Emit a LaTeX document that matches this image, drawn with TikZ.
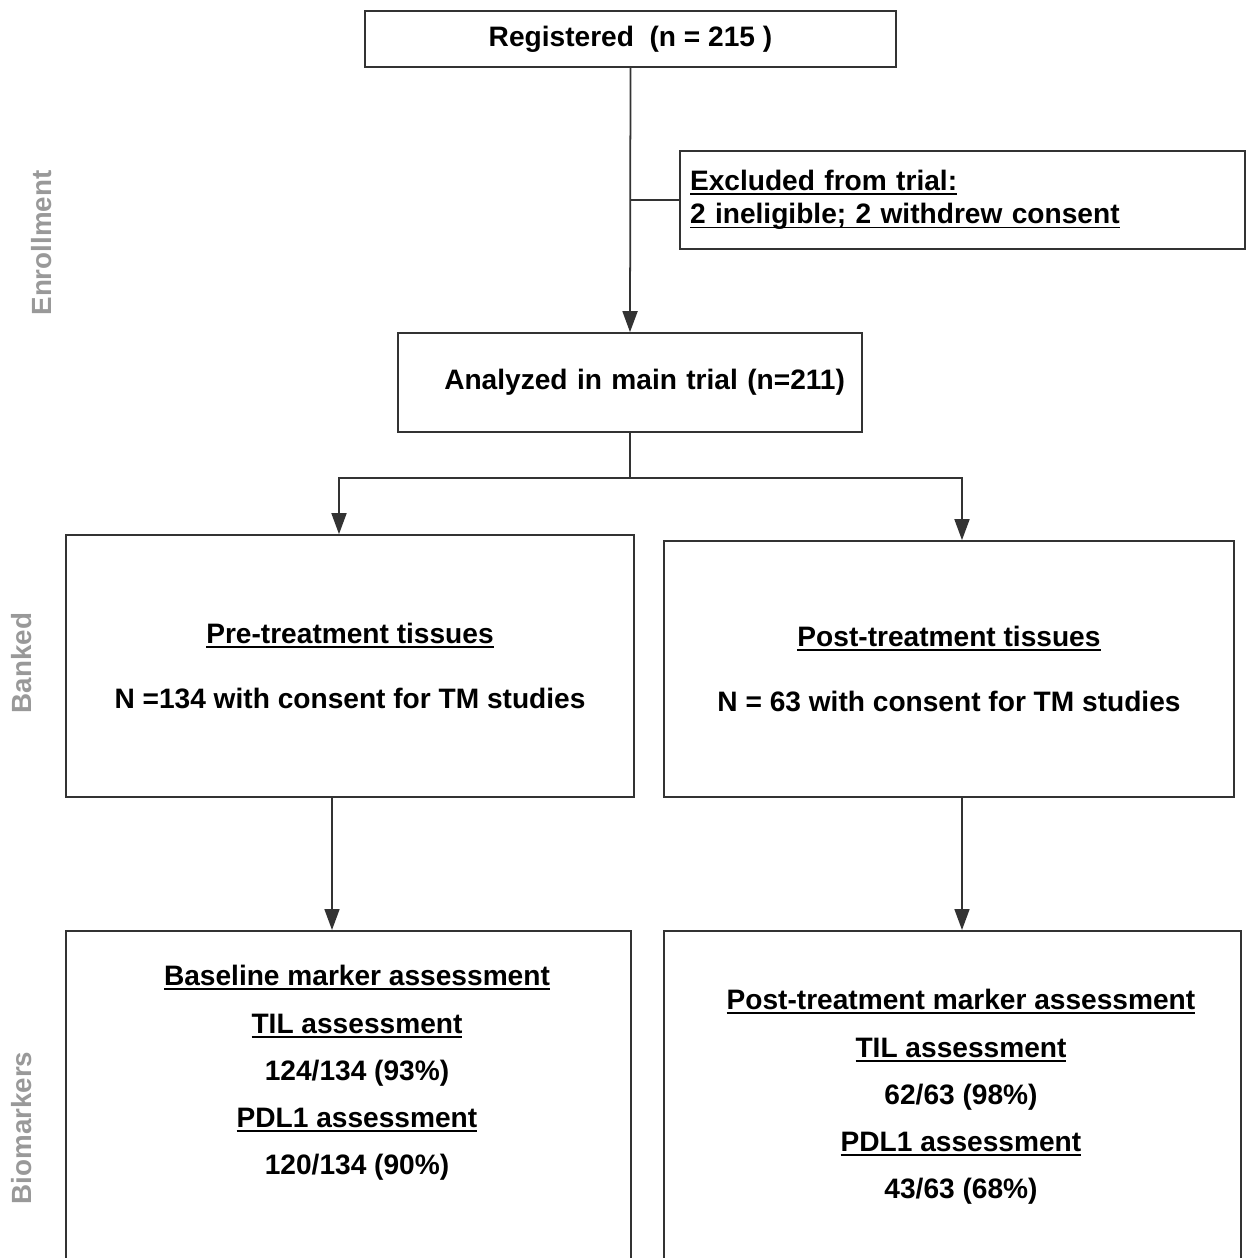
\documentclass[tikz,border=0pt]{standalone}
\usepackage{fontspec}
\setmainfont{Liberation Sans}
\usetikzlibrary{arrows.meta}

\newcommand{\uln}[1]{\leavevmode\hbox{\setbox0\hbox{#1}\rlap{\rule[-2.6pt]{\wd0}{1.1pt}}\box0}}

\tikzset{
	box/.style={draw=black!80, line width=1pt, inner sep=0pt, align=center,
		font=\fontsize{16}{19}\selectfont\bfseries},
	conn/.style={draw=black!80, line width=1pt},
	arr/.style={conn, -{Triangle[length=0.42cm, width=0.3cm]}},
	phase/.style={text=black!40, rotate=90, font=\fontsize{15.8}{19}\selectfont\bfseries},
	markers/.style={align=center, font=\fontsize{16}{26.9}\selectfont\bfseries}
}

\begin{document}
\begin{tikzpicture}[x=0.02cm, y=-0.02cm]
			%%%%% START %%%%%
			\useasboundingbox (0, 0) rectangle (1249, 1258);
			\clip (0, 0) rectangle (1249, 1258);
			
			% phases
			\node[phase] (enrol) at (42, 243) {Enrollment};
			\node[phase] (bank) at (22, 663) {Banked};
			\node[phase] (bio) at (22, 1128) {Biomarkers};
			
			% enrollment
			\node[box, minimum width=10.62cm, minimum height=1.12cm] (reg) at (630.5, 39) {Registered\ \ (n = 215~)};
			\node[box, minimum width=11.3cm, minimum height=1.96cm, text width=10.9cm, inner xsep=0.2cm, align=left] (excl) at (962.5, 200)
				{\uln{Excluded from trial:}\\ \uln{2 ineligible; 2 withdrew consent}};
			\node[box, minimum width=9.28cm, minimum height=1.98cm, text width=8.6cm, inner xsep=0.34cm, align=right] (ana) at (630, 382.5)
				{Analyzed in main trial (n=211)};
			
			% banked
			\node[box, minimum width=11.36cm, minimum height=5.24cm] (pre) at (350, 666)
				{\uln{Pre-treatment tissues}\\[18pt] N =134 with consent for TM studies};
			\node[box, minimum width=11.4cm, minimum height=5.12cm] (post) at (949, 669)
				{\uln{Post-treatment tissues}\\[18pt] N = 63 with consent for TM studies};
			
			% biomarkers (boxes run off the page)
			\node[box, minimum width=11.3cm, minimum height=8cm, anchor=north] (base) at (348.5, 930) {};
			\node[markers] (basetxt) at (357, 1073)
				{\uln{Baseline marker assessment}\\ \uln{TIL assessment}\\ 124/134 (93\%)\\ \uln{PDL1 assessment}\\ 120/134 (90\%)};
			\node[box, minimum width=11.54cm, minimum height=8cm, anchor=north] (postm) at (952.5, 930) {};
			\node[markers] (postmtxt) at (961, 1097)
				{\uln{Post-treatment marker assessment}\\ \uln{TIL assessment}\\ 62/63 (98\%)\\ \uln{PDL1 assessment}\\ 43/63 (68\%)};
			
			% connectors
			\draw[arr] (reg.south) -- (ana.north);
			\coordinate (branch) at (reg.south |- excl.west);
			\draw[conn] (branch) -- (excl.west);
			
			\coordinate (split) at (630, 478);
			\draw[conn] (ana.south) -- (split);
			\draw[arr] (split) -| ([xshift=-0.22cm]pre.north);
			\draw[arr] (split) -| ([xshift=0.26cm]post.north);
			
			\draw[arr] ([xshift=-0.36cm]pre.south) -- ([xshift=-0.33cm]base.north);
			\draw[arr] ([xshift=0.26cm]post.south) -- ([xshift=0.19cm]postm.north);
			%%%%% END %%%%%
\end{tikzpicture}
\end{document}
